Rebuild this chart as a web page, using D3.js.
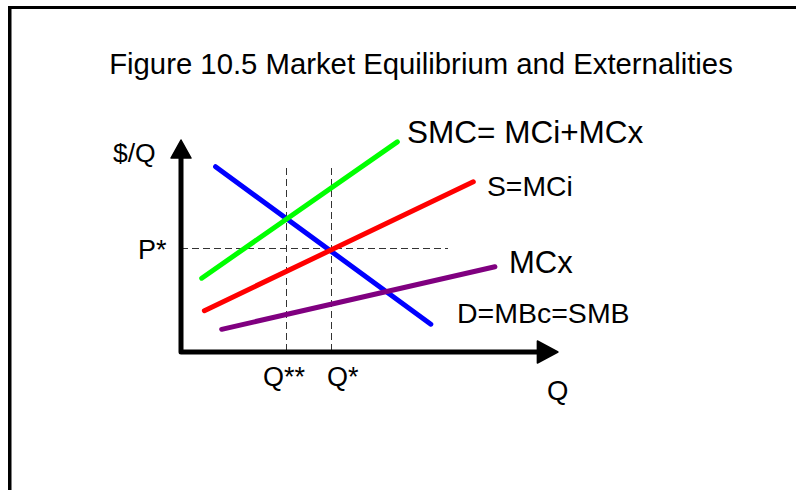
<!DOCTYPE html>
<html>
<head>
<meta charset="utf-8">
<script src="https://cdn.jsdelivr.net/npm/d3@7"></script>
<style>
  html, body { margin: 0; padding: 0; background: #fff; }
  svg { display: block; }
  text { font-family: "Liberation Sans", Arial, sans-serif; fill: #000; }
</style>
</head>
<body>
<script>
// ---- data (curve endpoints in chart units) ----
const curveNames = ["D=MBc=SMB", "SMC= MCi+MCx", "S=MCi", "MCx"];
const curveColors = ["#0000ff", "#00ff00", "#ff0000", "#800080"];
const curveStart = [[0.96, 8.74], [0.575, 3.48], [0.65, 1.95], [1.13, 1.07]];
const curveEnd   = [[6.94, 1.31], [6.01, 9.91], [8.12, 8.03], [8.72, 4.02]];
const refQ = [2.94, 4.17];            // Q**, Q*
const refQLabels = ["Q**", "Q*"];
const refP = 4.86;                    // P*
const refPLabel = "P*";
const title = "Figure 10.5 Market Equilibrium and Externalities";
const yAxisLabel = "$/Q";
const xAxisLabel = "Q";

const W = 796, H = 490;
const svg = d3.select("body").append("svg").attr("width", W).attr("height", H);

// frame
svg.append("line").attr("x1", 9.75).attr("x2", 9.75).attr("y1", 6).attr("y2", H)
  .attr("stroke", "#000").attr("stroke-width", 3.5);
svg.append("line").attr("x1", 8).attr("x2", W).attr("y1", 7.5).attr("y2", 7.5)
  .attr("stroke", "#000").attr("stroke-width", 3);

const x = d3.scaleLinear().domain([0, 10]).range([181, 541]);
const y = d3.scaleLinear().domain([0, 10]).range([352, 140]);

// title
svg.append("text").attr("x", 421).attr("y", 74).attr("text-anchor", "middle")
  .attr("font-size", 29.3).text(title);

// dashed reference lines
const dash = svg.append("g").attr("stroke", "#333").attr("stroke-width", 1)
  .attr("stroke-dasharray", "7,4").attr("fill", "none").attr("shape-rendering", "crispEdges");
refQ.forEach(q => {
  dash.append("line").attr("x1", x(q)).attr("x2", x(q)).attr("y1", y(8.68)).attr("y2", y(0));
});
dash.append("line").attr("x1", x(0)).attr("x2", x(7.42)).attr("y1", y(refP)).attr("y2", y(refP));

// curves
curveNames.forEach((n, i) => {
  svg.append("line")
    .attr("x1", x(curveStart[i][0])).attr("y1", y(curveStart[i][1]))
    .attr("x2", x(curveEnd[i][0])).attr("y2", y(curveEnd[i][1]))
    .attr("stroke", curveColors[i]).attr("stroke-width", 5).attr("stroke-linecap", "round");
});

// axes
const ax = svg.append("g");
ax.append("path")
  .attr("d", `M${x(0)},${y(9.15)} L${x(0)},${y(0)} L${x(9.9)},${y(0)}`)
  .attr("stroke", "#000").attr("stroke-width", 5).attr("fill", "none")
  .attr("stroke-linejoin", "round").attr("stroke-linecap", "round");
ax.append("path")
  .attr("d", `M${x(0)},${y(10)} L${x(0) + 10},${y(9.15)} L${x(0) - 10},${y(9.15)} Z`)
  .attr("fill", "#000").attr("stroke", "#000").attr("stroke-width", 1.5).attr("stroke-linejoin", "round");
ax.append("path")
  .attr("d", `M${x(10.47)},${y(0)} L${x(9.9)},${y(0) - 11} L${x(9.9)},${y(0) + 11} Z`)
  .attr("fill", "#000").attr("stroke", "#000").attr("stroke-width", 1.5).attr("stroke-linejoin", "round");

// axis labels
svg.append("text").attr("x", 113).attr("y", 162).attr("font-size", 26.5).text(yAxisLabel);
svg.append("text").attr("x", 547).attr("y", 400).attr("font-size", 27.5).text(xAxisLabel);
svg.append("text").attr("x", 138).attr("y", 259).attr("font-size", 27).text(refPLabel);
svg.append("text").attr("x", 263).attr("y", 386).attr("font-size", 27).text(refQLabels[0]);
svg.append("text").attr("x", 327).attr("y", 386).attr("font-size", 27).text(refQLabels[1]);

// curve labels
const labelPos = [[457, 323, 28.5], [407, 143, 31.5], [487, 196, 28.3], [509, 273, 31]];
curveNames.forEach((n, i) => {
  svg.append("text").attr("x", labelPos[i][0]).attr("y", labelPos[i][1])
    .attr("font-size", labelPos[i][2]).text(n);
});
</script>
</body>
</html>
